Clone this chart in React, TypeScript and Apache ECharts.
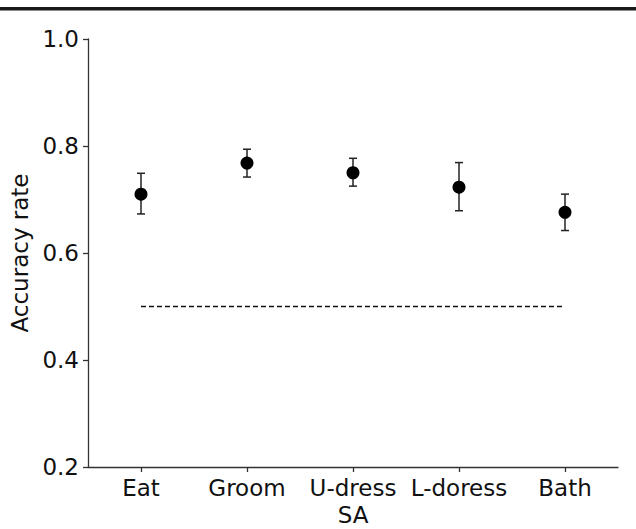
import React, { useEffect, useRef } from "react";
import * as echarts from "echarts";

const categories = ["Eat", "Groom", "U-dress", "L-doress", "Bath"];
const meanValues = [0.71, 0.768, 0.75, 0.723, 0.676];
const lowerValues = [0.673, 0.742, 0.725, 0.679, 0.642];
const upperValues = [0.749, 0.794, 0.777, 0.769, 0.71];
const chanceLevel = [0.5, 0.5, 0.5, 0.5, 0.5];
const yTicks = { min: 0.2, max: 1.0, interval: 0.2 };

const FONT = "DejaVu Sans";
const FS = 23;

export default function App() {
  const ref = useRef<HTMLDivElement>(null);
  useEffect(() => {
    if (!ref.current) return;
    const chart = echarts.init(ref.current, null, { renderer: "svg" });
    const errData = categories.map((_, i) => [i, lowerValues[i], upperValues[i]]);
    chart.setOption({
      animation: false,
      backgroundColor: "#ffffff",
      textStyle: { fontFamily: FONT },
      graphic: [
        {
          type: "rect",
          shape: { x: 0, y: 7, width: 636, height: 3.5 },
          style: { fill: "#1a1a1a" },
        },
      ],
      grid: {
        left: 88,
        right: 18,
        top: 39,
        bottom: 62,
        containLabel: false,
        outerBoundsMode: "none",
      },
      xAxis: {
        type: "category",
        data: categories,
        boundaryGap: true,
        name: "SA",
        nameLocation: "middle",
        nameGap: 36,
        nameMoveOverlap: false,
        nameTextStyle: { fontFamily: FONT, fontSize: FS, color: "#111" },
        axisLine: { show: true, lineStyle: { color: "#333", width: 1.3 } },
        axisTick: { show: true, alignWithLabel: true, interval: 0, length: 5, lineStyle: { color: "#333", width: 1.3 } },
        axisLabel: { fontFamily: FONT, fontSize: FS, color: "#111", margin: 9, interval: 0 },
        splitLine: { show: false },
      },
      yAxis: {
        type: "value",
        min: yTicks.min,
        max: yTicks.max,
        interval: yTicks.interval,
        name: "Accuracy rate",
        nameLocation: "middle",
        nameGap: 57,
        nameMoveOverlap: false,
        nameTextStyle: { fontFamily: FONT, fontSize: FS, color: "#111" },
        axisLine: { show: true, lineStyle: { color: "#333", width: 1.3 } },
        axisTick: { show: true, length: 5, lineStyle: { color: "#333", width: 1.3 } },
        axisLabel: {
          fontFamily: FONT,
          fontSize: FS,
          color: "#111",
          margin: 9,
          formatter: (v: number) => v.toFixed(1),
        },
        splitLine: { show: false },
      },
      series: [
        {
          type: "line",
          data: chanceLevel,
          symbol: "none",
          lineStyle: { color: "#111", width: 1.3, type: [5, 3] },
          silent: true,
        },
        {
          type: "custom",
          data: errData,
          renderItem: (params: any, api: any) => {
            const x = api.value(0);
            const lo = api.coord([x, api.value(1)]);
            const hi = api.coord([x, api.value(2)]);
            const cap = 4;
            const style = { stroke: "#222", lineWidth: 1.5 };
            return {
              type: "group",
              children: [
                { type: "line", shape: { x1: lo[0], y1: lo[1], x2: hi[0], y2: hi[1] }, style },
                { type: "line", shape: { x1: lo[0] - cap, y1: lo[1], x2: lo[0] + cap, y2: lo[1] }, style },
                { type: "line", shape: { x1: hi[0] - cap, y1: hi[1], x2: hi[0] + cap, y2: hi[1] }, style },
              ],
            };
          },
          encode: { x: 0, y: [1, 2] },
          z: 3,
        },
        {
          type: "scatter",
          data: meanValues,
          symbol: "circle",
          symbolSize: 13,
          itemStyle: { color: "#000", opacity: 1 },
          z: 4,
        },
      ],
    });
    return () => chart.dispose();
  }, []);
  return (
    <div
      ref={ref}
      style={{ position: "absolute", left: 0, top: 0, width: 636, height: 529 }}
    />
  );
}
